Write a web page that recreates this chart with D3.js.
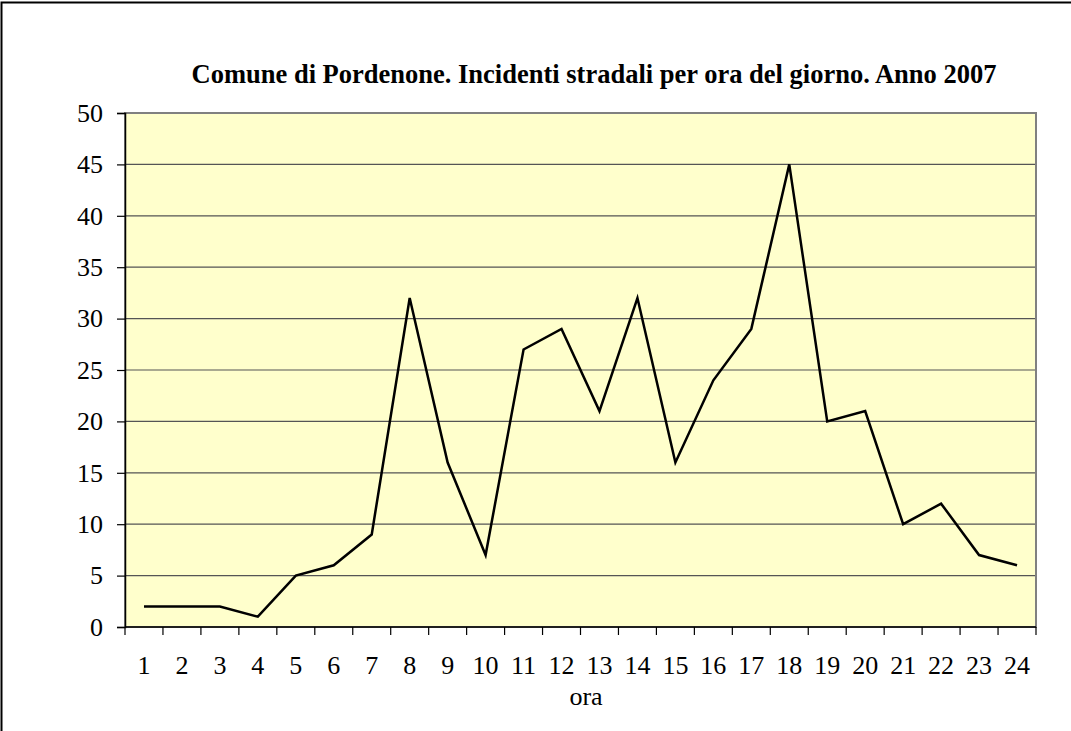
<!DOCTYPE html>
<html><head><meta charset="utf-8">
<script src="https://cdn.jsdelivr.net/npm/d3@7"></script>
<style>body{margin:0;background:#fff}svg{display:block}svg text{font-family:"Liberation Serif","Times New Roman","DejaVu Serif",serif}</style>
</head><body>
<svg id="c" width="1071" height="731"></svg>
<script>
const hours = ["1","2","3","4","5","6","7","8","9","10","11","12","13","14","15","16","17","18","19","20","21","22","23","24"];
const incidents = [2,2,2,1,5,6,9,32,16,7,27,29,21,32,16,24,29,45,20,21,10,12,7,6];
const yTicks = [0,5,10,15,20,25,30,35,40,45,50];
const title = "Comune di Pordenone. Incidenti stradali per ora del giorno. Anno 2007";
const xTitle = "ora";

const svg = d3.select("#c");
const L = 125, R = 1036, T = 113, B = 627;
const x = d3.scaleBand().domain(hours).range([L, R]);
const y = d3.scaleLinear().domain([0, 50]).range([B, T]);

// outer frame (left & top visible)
svg.append("path").attr("d", "M1.5,731 V2.5 H1071").attr("fill","none").attr("stroke","#000").attr("stroke-width",2);

svg.append("rect").attr("x", L).attr("y", T).attr("width", R - L).attr("height", B - T).attr("fill", "#FFFFCC");

// gridlines
svg.append("g").selectAll("line").data(yTicks.filter(d => d > 0 && d < 50)).join("line")
  .attr("x1", L).attr("x2", R).attr("y1", d => y(d)).attr("y2", d => y(d))
  .attr("stroke", "#555").attr("stroke-width", 1.2);

// plot border
svg.append("rect").attr("x", L).attr("y", T).attr("width", R - L).attr("height", B - T)
  .attr("fill", "none").attr("stroke", "#808080").attr("stroke-width", 2);

// y axis
const yAxis = d3.axisLeft(y).tickValues(yTicks).tickSize(8).tickPadding(14);
const gy = svg.append("g").attr("transform", `translate(${L},0)`).call(yAxis);
gy.attr("font-family", null).attr("font-size", null);
gy.select(".domain").attr("stroke", "#000").attr("stroke-width", 1.5);
gy.selectAll(".tick line").attr("stroke", "#000").attr("stroke-width", 1.2);
gy.selectAll("text").style("font-size", "26px").attr("fill", "#000");

// x axis
const xTickPos = hours.map(h => x(h)).concat([R]);
svg.append("line").attr("x1", L).attr("x2", R).attr("y1", B).attr("y2", B).attr("stroke", "#000").attr("stroke-width", 1.5);
svg.append("g").selectAll("line").data(xTickPos).join("line")
  .attr("x1", d => d).attr("x2", d => d).attr("y1", B).attr("y2", B + 8)
  .attr("stroke", "#000").attr("stroke-width", 1.2);
svg.append("g").selectAll("text").data(hours).join("text")
  .attr("x", d => x(d) + x.bandwidth() / 2).attr("y", 674)
  .attr("text-anchor", "middle")
  .style("font-size", "26px")
  .text(d => d);

// line
const line = d3.line().x((d, i) => x(hours[i]) + x.bandwidth() / 2).y(d => y(d));
svg.append("path").datum(incidents).attr("d", line).attr("fill", "none")
  .attr("stroke", "#000").attr("stroke-width", 2.5).attr("stroke-linejoin", "miter");

// titles
svg.append("text").attr("x", 594).attr("y", 83).attr("text-anchor", "middle")
  .style("font-weight", "bold").style("font-size", "26.5px")
  .text(title);
svg.append("text").attr("x", 586).attr("y", 705).attr("text-anchor", "middle")
  .style("font-size", "26px")
  .text(xTitle);
</script>
</body></html>
